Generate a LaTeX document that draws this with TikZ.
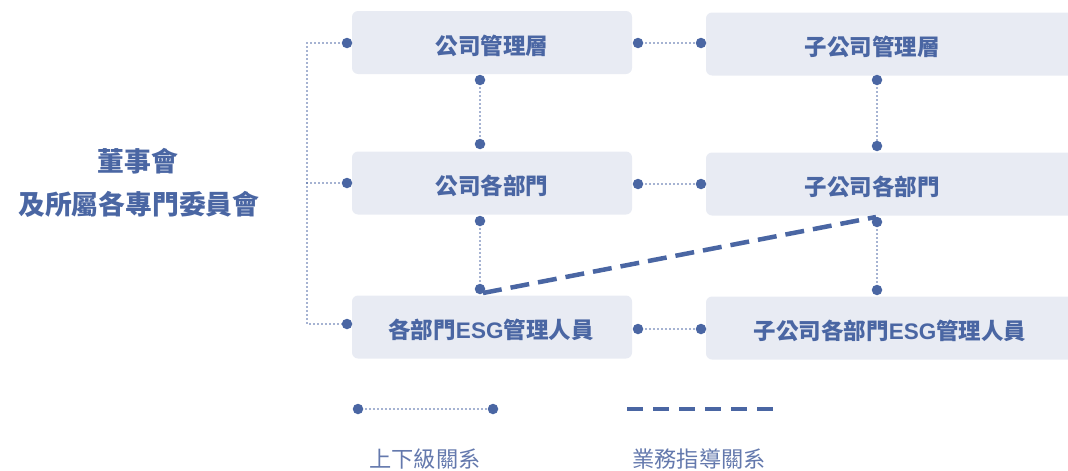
\documentclass[tikz,border=0pt]{standalone}
\usepackage{fontspec}
\setmainfont{Noto Sans CJK TC}
\newfontfamily\latfont{Liberation Sans}
\newcommand{\latx}[1]{{\latfont\bfseries #1}}
\definecolor{mainblue}{HTML}{4A66A3}
\definecolor{boxfill}{HTML}{E8EBF3}
\definecolor{legtext}{HTML}{6479AD}
\begin{document}
\begin{tikzpicture}[x=1pt,y=-1pt,
  box/.style={fill=boxfill, rounded corners=6pt, minimum height=63pt, inner sep=0pt, draw=none},
  lbl/.style={text=mainblue, font=\fontsize{22.5}{26}\selectfont\bfseries, inner sep=0pt},
  big/.style={text=mainblue, font=\fontsize{26.8}{31}\selectfont\bfseries, inner sep=0pt},
  leg/.style={text=legtext, font=\fontsize{22.2}{26}\selectfont, inner sep=0pt},
  dot/.style={circle, fill=mainblue, minimum size=10.5pt, inner sep=0pt},
  dotline/.style={draw=mainblue, line width=1.8pt, dash pattern=on 0pt off 4pt, line cap=round},
  dashline/.style={draw=mainblue, line width=4.5pt, dash pattern=on 19pt off 9pt},
  legdash/.style={draw=mainblue, line width=4.5pt, dash pattern=on 16pt off 10pt}
]
\useasboundingbox (0,0) rectangle (1068,471);

% boxes
\node[box, minimum width=280pt] (L1) at (492,42.5) {};
\node[box, minimum width=280pt] (L2) at (492,183) {};
\node[box, minimum width=280pt] (L3) at (492,327) {};
\node[box, minimum width=380pt] (R1) at (896,44) {};
\node[box, minimum width=380pt] (R2) at (896,184) {};
\node[box, minimum width=380pt] (R3) at (896,328) {};

% labels
\node[lbl] (tL1) at (492,46) {公司管理層};
\node[lbl] (tL2) at (492,186) {公司各部門};
\node[lbl] (tL3) at (491,330) {各部門\latx{ESG}管理人員};
\node[lbl] (tR1) at (872,47) {子公司管理層};
\node[lbl] (tR2) at (872,187) {子公司各部門};
\node[lbl] (tR3) at (890,331) {子公司各部門\latx{ESG}管理人員};

\node[big] (board1) at (138,161) {董事會};
\node[big] (board2) at (139,204) {及所屬各專門委員會};

% dots
\node[dot] (dL1) at (347,43) {};
\node[dot] (dL2) at (347,183) {};
\node[dot] (dL3) at (347,324) {};
\node[dot] (h1a) at (638,43) {};
\node[dot] (h1b) at (701,43) {};
\node[dot] (h2a) at (638,184) {};
\node[dot] (h2b) at (701,184) {};
\node[dot] (h3a) at (638,329) {};
\node[dot] (h3b) at (701,329) {};
\node[dot] (v1a) at (480,80) {};
\node[dot] (v1b) at (480,144) {};
\node[dot] (v2a) at (480,221) {};
\node[dot] (v2b) at (480,289) {};
\node[dot] (w1a) at (877,80) {};
\node[dot] (w1b) at (877,146) {};
\node[dot] (w2a) at (877,222) {};
\node[dot] (w2b) at (877,290) {};

\coordinate (k1) at (307,43);
\coordinate (k2) at (307,183);
\coordinate (k3) at (307,324);

% dotted connectors
\draw[dotline] (dL1.center) -- (k1) -- (k3) -- (dL3.center);
\draw[dotline] (k2) -- (dL2.center);
\draw[dotline] (h1a.center) -- (h1b.center);
\draw[dotline] (h2a.center) -- (h2b.center);
\draw[dotline] (h3a.center) -- (h3b.center);
\draw[dotline] (v1a.center) -- (v1b.center);
\draw[dotline] (v2a.center) -- (v2b.center);
\draw[dotline] (w1a.center) -- (w1b.center);
\draw[dotline] (w2a.center) -- (w2b.center);

% dashed relation
\coordinate (dsA) at (483,293);
\coordinate (dsB) at (876,217);
\draw[dashline] (dsA) -- (dsB);

% legend
\node[dot] (lg1) at (358,409) {};
\node[dot] (lg2) at (493,409) {};
\draw[dotline] (lg1.center) -- (lg2.center);
\coordinate (lgA) at (627,409);
\coordinate (lgB) at (773,409);
\draw[legdash] (lgA) -- (lgB);
\node[leg] (lt1) at (425,459) {上下級關系};
\node[leg] (lt2) at (699,459) {業務指導關系};
\end{tikzpicture}
\end{document}
